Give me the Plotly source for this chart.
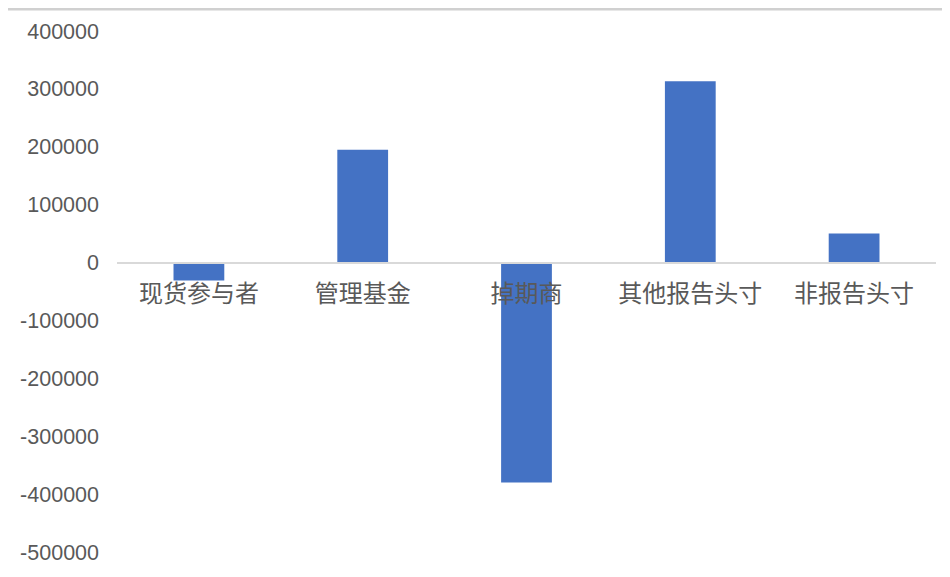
import plotly.graph_objects as go

# Net positions by trader category
categories = ['现货参与者', '管理基金', '掉期商', '其他报告头寸', '非报告头寸']
net_position = [-31000, 195000, -380000, 313000, 50000]

y_ticks = [400000, 300000, 200000, 100000, 0, -100000, -200000, -300000, -400000, -500000]
y_labels = [str(v) for v in y_ticks]

y_min, y_max = -500000, 400000

fig = go.Figure()
fig.add_trace(go.Bar(x=categories, y=net_position,
                     marker=dict(color='#4472C4', line=dict(width=0)),
                     width=0.31))

fig.update_xaxes(anchor='free',
                 position=(0 - y_min) / (y_max - y_min),
                 showline=True, linecolor='#d9d9d9', linewidth=1.5,
                 ticks='', ticklabelstandoff=10,
                 tickfont=dict(family='Noto Sans CJK SC', size=24, color='#595959'),
                 showgrid=False, zeroline=False, fixedrange=True)
fig.update_yaxes(range=[y_min, y_max],
                 tickvals=y_ticks, ticktext=y_labels,
                 ticks='', ticklabelstandoff=17,
                 tickfont=dict(family='Liberation Sans', size=21.5, color='#595959'),
                 showgrid=False, zeroline=False, showline=False)

# page body has an 8px margin, so the figure is 8px smaller on each axis
W, H = 942, 569
M = dict(l=105, r=14, t=23, b=23)

# thin grey frame edge at the top of the picture
top = 1.0 + (M['t'] - 1) / (H - M['t'] - M['b'])
fig.add_shape(type='line', xref='paper', yref='paper',
              x0=-0.2, x1=1.2, y0=top, y1=top,
              line=dict(color='#d0d0d0', width=3))

fig.update_layout(width=W, height=H, margin=M,
                  plot_bgcolor='white', paper_bgcolor='white',
                  showlegend=False)

fig.write_html('out.html')
